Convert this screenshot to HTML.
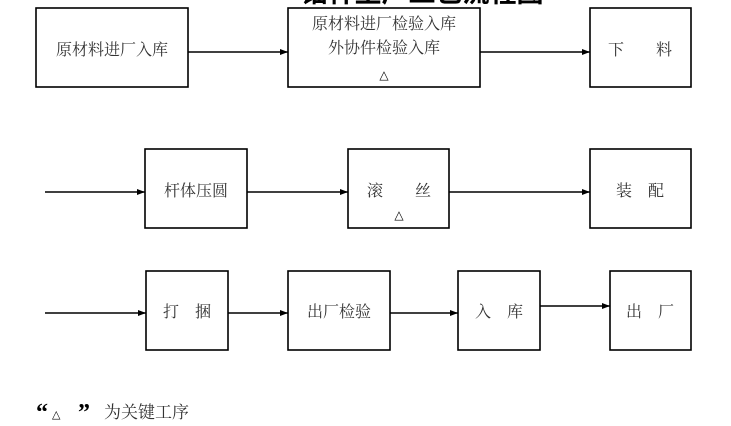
<!DOCTYPE html>
<html><head><meta charset="utf-8"><style>
html,body{margin:0;padding:0;background:#fff;width:731px;height:426px;overflow:hidden}
svg text{font-family:"Liberation Serif","Noto Serif CJK SC","Noto Sans CJK SC",serif;fill:#333;font-size:16px}
</style></head><body>
<svg width="731" height="426" xmlns="http://www.w3.org/2000/svg">
<defs><marker id="a" markerWidth="8" markerHeight="6" refX="8" refY="3" orient="auto" markerUnits="userSpaceOnUse"><path d="M0,0L8,3L0,6z" fill="#000"/></marker></defs>
<text x="422" y="2" text-anchor="middle" style="font-size:27px;font-weight:bold;fill:#000;font-family:'Noto Sans CJK SC',sans-serif">锚杆生产工艺流程图</text>
<g fill="none" stroke="#000" stroke-width="1.6">
<rect x="36" y="8" width="152" height="79"/>
<rect x="288" y="8" width="192" height="79"/>
<rect x="590" y="8" width="101" height="79"/>
<rect x="145" y="149" width="102" height="79"/>
<rect x="348" y="149" width="101" height="79"/>
<rect x="590" y="149" width="101" height="79"/>
<rect x="146" y="271" width="82" height="79"/>
<rect x="288" y="271" width="102" height="79"/>
<rect x="458" y="271" width="82" height="79"/>
<rect x="610" y="271" width="81" height="79"/>
</g>
<g stroke="#000" stroke-width="1.4" marker-end="url(#a)">
<line x1="188" y1="52" x2="288" y2="52"/>
<line x1="480" y1="52" x2="590" y2="52"/>
<line x1="45" y1="192" x2="145" y2="192"/>
<line x1="247" y1="192" x2="348" y2="192"/>
<line x1="449" y1="192" x2="590" y2="192"/>
<line x1="45" y1="313" x2="146" y2="313"/>
<line x1="228" y1="313" x2="288" y2="313"/>
<line x1="390" y1="313" x2="458" y2="313"/>
<line x1="540" y1="306" x2="610" y2="306"/>
</g>
<text x="112" y="55" text-anchor="middle">原材料进厂入库</text>
<text x="384" y="29" text-anchor="middle">原材料进厂检验入库</text>
<text x="384" y="53" text-anchor="middle">外协件检验入库</text>
<text x="384" y="79" text-anchor="middle" style="font-family:'DejaVu Sans',sans-serif;font-size:12px;fill:#000">△</text>
<text x="640" y="55" text-anchor="middle">下　　料</text>
<text x="196" y="196" text-anchor="middle">杆体压圆</text>
<text x="399" y="196" text-anchor="middle">滚　　丝</text>
<text x="399" y="219" text-anchor="middle" style="font-family:'DejaVu Sans',sans-serif;font-size:12px;fill:#000">△</text>
<text x="640" y="196" text-anchor="middle">装　配</text>
<text x="187" y="317" text-anchor="middle">打　捆</text>
<text x="339" y="317" text-anchor="middle">出厂检验</text>
<text x="499" y="317" text-anchor="middle">入　库</text>
<text x="650" y="317" text-anchor="middle">出　厂</text>
<text x="36" y="420" style="font-size:24px;font-weight:bold;fill:#000">“</text>
<text x="52" y="418" style="font-family:'DejaVu Sans',sans-serif;font-size:11px;fill:#000">△</text>
<text x="78" y="420" style="font-size:24px;font-weight:bold;fill:#000">”</text>
<text x="104" y="418" style="font-size:17px">为关键工序</text>
</svg>
</body></html>
